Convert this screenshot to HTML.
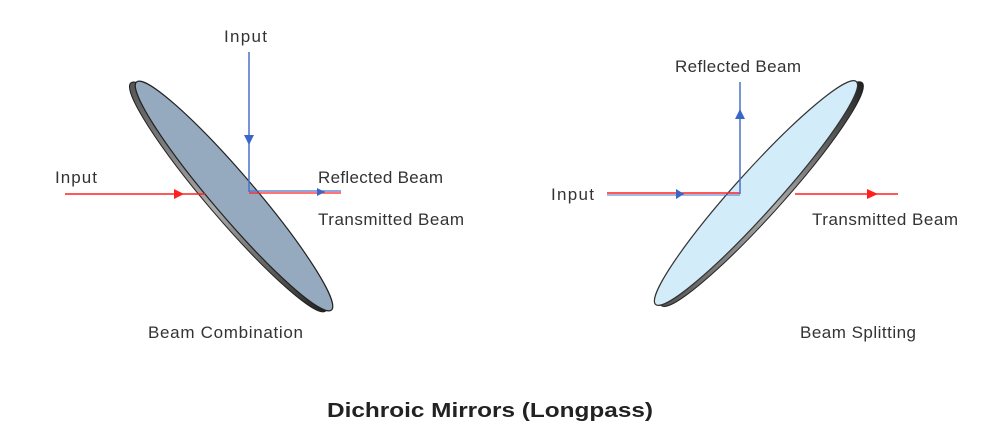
<!DOCTYPE html>
<html><head><style>html,body{margin:0;padding:0;background:#fff;}</style></head>
<body>
<svg width="1003" height="437" viewBox="0 0 1003 437" xmlns="http://www.w3.org/2000/svg" font-family="Liberation Sans, sans-serif">
<defs>
<linearGradient id="edge" x1="0" y1="0" x2="1" y2="0">
<stop offset="0" stop-color="#555"/><stop offset="0.5" stop-color="#aaa"/><stop offset="1" stop-color="#222"/>
</linearGradient>
</defs>
<g transform="translate(234,196) rotate(49.5)">
<ellipse cx="-3" cy="5" rx="150" ry="21" fill="url(#edge)" stroke="#222" stroke-width="1"/>
<ellipse cx="0" cy="0" rx="150" ry="21" fill="#95a9bf" stroke="#222" stroke-width="1.2"/>
</g>
<g transform="translate(756,193) rotate(-48)">
<ellipse cx="3" cy="5" rx="150" ry="21" fill="url(#edge)" stroke="#222" stroke-width="1"/>
<ellipse cx="0" cy="0" rx="150" ry="21" fill="#d3ecfa" stroke="#333" stroke-width="1.2"/>
</g>
<line x1="65" y1="194" x2="205" y2="194" stroke="#ff2020" stroke-width="1.5"/>
<polygon points="174,189 184,194 174,199" fill="#ff2020"/>
<line x1="249" y1="52" x2="249" y2="192" stroke="#4a72c8" stroke-width="1.5"/>
<polygon points="244,135 254,135 249,145" fill="#3a66c8"/>
<line x1="249" y1="191" x2="341" y2="191" stroke="#4a72c8" stroke-width="1.2"/>
<line x1="249" y1="193" x2="341" y2="193" stroke="#ff2020" stroke-width="1.2"/>
<polygon points="317,188 325,192 317,196" fill="#3a66c8"/>
<line x1="607" y1="193" x2="740" y2="193" stroke="#ff2020" stroke-width="1.5"/>
<line x1="607" y1="195" x2="740" y2="195" stroke="#4a72c8" stroke-width="1"/>
<polygon points="676,189 684,194 676,199" fill="#3a66c8"/>
<line x1="740" y1="82" x2="740" y2="194" stroke="#4a72c8" stroke-width="1.5"/>
<polygon points="735,119 745,119 740,109" fill="#3a66c8"/>
<line x1="795" y1="194" x2="898" y2="194" stroke="#ff2020" stroke-width="1.5"/>
<polygon points="867,189 878,194 867,199" fill="#ff2020"/>
<g fill="#333" font-size="17" lengthAdjust="spacingAndGlyphs">
<text x="224" y="42" textLength="43">Input</text>
<text x="55" y="183" textLength="42">Input</text>
<text x="318" y="183" textLength="125">Reflected Beam</text>
<text x="318" y="225" textLength="146">Transmitted Beam</text>
<text x="148" y="338" textLength="155">Beam Combination</text>
<text x="675" y="72" textLength="126">Reflected Beam</text>
<text x="551" y="200" textLength="43">Input</text>
<text x="812" y="225" textLength="146">Transmitted Beam</text>
<text x="800" y="338" textLength="116">Beam Splitting</text>
</g>
<text x="327" y="417" font-size="20" font-weight="bold" fill="#222" textLength="326" lengthAdjust="spacingAndGlyphs">Dichroic Mirrors (Longpass)</text>
</svg>
</body></html>
